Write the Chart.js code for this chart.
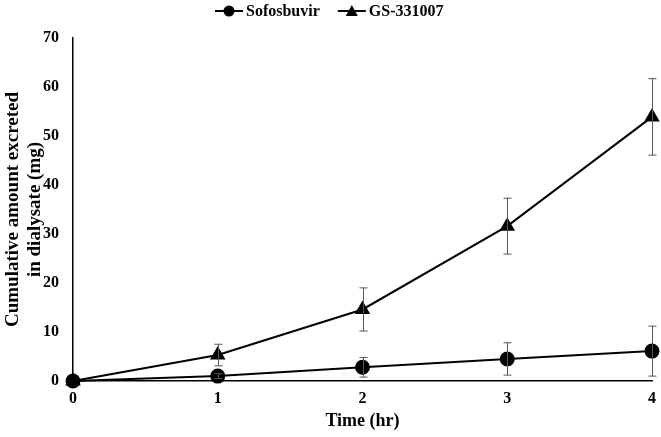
<!DOCTYPE html>
<html>
<head>
<meta charset="utf-8">
<script src="https://cdn.jsdelivr.net/npm/chart.js@4.4.1/dist/chart.umd.min.js"></script>
<style>
  html, body { margin: 0; padding: 0; background: #fff; }
  #wrap { width: 661px; height: 437px; }
</style>
</head>
<body>
<div id="wrap"><canvas id="chart" width="661" height="437"></canvas></div>
<script>
// time points (hr)
const times = [0, 1, 2, 3, 4];

// cumulative amount excreted in dialysate (mg)
const sofosbuvir = [0, 1.0, 2.8, 4.5, 6.1];
const sofosbuvirErr = [0, 0.5, 2.0, 3.3, 5.1];

const gs331007 = [0, 5.3, 14.6, 31.6, 53.9];
const gs331007Err = [0, 2.2, 4.4, 5.7, 7.8];

const yTicks = [0, 10, 20, 30, 40, 50, 60, 70];

const serif = "'Liberation Serif', 'Times New Roman', serif";

// error bars, drawn through the chart's own scales
const errorBars = {
  id: 'errorBars',
  afterDatasetsDraw(chart) {
    const ctx = chart.ctx;
    const xs = chart.scales.x, ys = chart.scales.y;
    ctx.save();
    ctx.strokeStyle = '#555';
    ctx.lineWidth = 1;
    chart.data.datasets.forEach(ds => {
      ds.data.forEach((p, i) => {
        const e = ds.err[i];
        if (!e) return;
        const x = Math.round(xs.getPixelForValue(p.x)) + 0.5;
        const top = ys.getPixelForValue(p.y + e);
        const bot = ys.getPixelForValue(Math.max(p.y - e, 0));
        ctx.beginPath();
        ctx.moveTo(x, top); ctx.lineTo(x, bot);
        ctx.moveTo(x - 4, top); ctx.lineTo(x + 4, top);
        ctx.moveTo(x - 4, bot); ctx.lineTo(x + 4, bot);
        ctx.stroke();
      });
    });
    ctx.restore();
  }
};

// Excel-style legend: short line with the marker on it
const lineLegend = {
  id: 'lineLegend',
  afterDraw(chart) {
    const ctx = chart.ctx;
    ctx.save();
    ctx.font = 'bold 16px ' + serif;
    ctx.textBaseline = 'middle';
    const y = 11;
    let x = 215;
    chart.data.datasets.forEach(ds => {
      ctx.strokeStyle = '#000';
      ctx.lineWidth = 2;
      ctx.beginPath();
      ctx.moveTo(x, y); ctx.lineTo(x + 28, y);
      ctx.stroke();
      ctx.fillStyle = '#000';
      ctx.beginPath();
      if (ds.pointStyle === 'circle') {
        ctx.arc(x + 14, y, 5.5, 0, Math.PI * 2);
      } else {
        ctx.moveTo(x + 14, y - 6);
        ctx.lineTo(x + 20, y + 5);
        ctx.lineTo(x + 8, y + 5);
        ctx.closePath();
      }
      ctx.fill();
      ctx.fillText(ds.label, x + 31, y + 1);
      x += 31 + ctx.measureText(ds.label).width + 18;
    });
    ctx.restore();
  }
};

new Chart(document.getElementById('chart').getContext('2d'), {
  type: 'line',
  data: {
    datasets: [
      {
        label: 'Sofosbuvir',
        data: times.map((t, i) => ({ x: t, y: sofosbuvir[i] })),
        err: sofosbuvirErr,
        borderColor: '#000',
        backgroundColor: '#000',
        borderWidth: 2,
        pointStyle: 'circle',
        pointRadius: 6.5,
        clip: false
      },
      {
        label: 'GS-331007',
        data: times.map((t, i) => ({ x: t, y: gs331007[i] })),
        err: gs331007Err,
        borderColor: '#000',
        backgroundColor: '#000',
        borderWidth: 2,
        pointStyle: 'triangle',
        pointRadius: 7,
        clip: false
      }
    ]
  },
  options: {
    responsive: false,
    animation: false,
    layout: { padding: { top: 38, right: 0, left: 0, bottom: 0 } },
    plugins: {
      legend: { display: false },
      tooltip: { enabled: false }
    },
    scales: {
      x: {
        type: 'linear',
        min: 0,
        max: 4,
        afterFit: axis => { axis.height = 56; axis.paddingRight = 8; },
        grid: { display: false, drawTicks: false },
        border: { display: true, color: '#000', width: 1.5 },
        ticks: {
          stepSize: 1,
          padding: 8,
          color: '#000',
          font: { family: serif, size: 16, weight: 'bold' }
        },
        title: {
          display: true,
          text: 'Time (hr)',
          color: '#000',
          padding: { top: 0, bottom: 5 },
          font: { family: serif, size: 18, weight: 'bold' }
        }
      },
      y: {
        min: 0,
        max: 70,
        afterFit: axis => { axis.width = 73; },
        grid: { display: false, drawTicks: false },
        border: { display: true, color: '#000', width: 1.5 },
        afterBuildTicks: axis => { axis.ticks = yTicks.map(v => ({ value: v })); },
        ticks: {
          padding: 14,
          color: '#000',
          font: { family: serif, size: 16, weight: 'bold' }
        },
        title: {
          display: true,
          text: ['Cumulative amount excreted', 'in dialysate (mg)'],
          color: '#000',
          padding: { top: 2, bottom: 0 },
          font: { family: serif, size: 19, weight: 'bold', lineHeight: 1.15 }
        }
      }
    }
  },
  plugins: [errorBars, lineLegend]
});
</script>
</body>
</html>
